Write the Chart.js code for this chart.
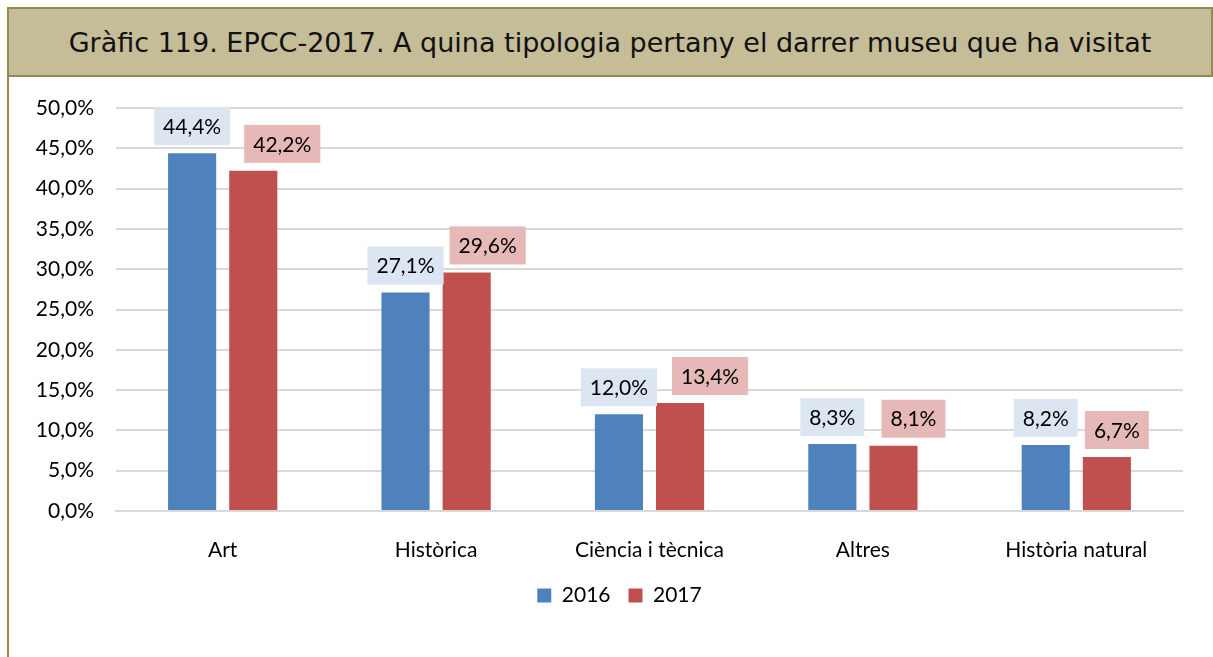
<!DOCTYPE html>
<html>
<head>
<meta charset="utf-8">
<script src="https://cdn.jsdelivr.net/npm/chart.js@4"></script>
<style>
  body { margin: 0; background: #fff; }
  #title {
    position: absolute; left: 7px; top: 7px;
    width: 1202px; height: 66px;
    background: #C4BD97;
    border: 2px solid #938953;
    font-family: "DejaVu Sans", Verdana, sans-serif;
    font-size: 27px; color: #111;
    display: flex; align-items: center; justify-content: center;
  }
  #frame { position: absolute; left: 7px; top: 77px; width: 2px; height: 580px; background: #938953; }
  #wrap { position: absolute; left: 10px; top: 79px; width: 1203px; height: 578px; }
</style>
</head>
<body>
<div id="title">Gràfic 119. EPCC-2017. A quina tipologia pertany el darrer museu que ha visitat</div>
<div id="frame"></div>
<div id="wrap"><canvas id="chart"></canvas></div>
<script>
var categories = ['Art', 'Històrica', 'Ciència i tècnica', 'Altres', 'Història natural'];
var seriesNames = ['2016', '2017'];
var values2016 = [44.4, 27.1, 12.0, 8.3, 8.2];
var values2017 = [42.2, 29.6, 13.4, 8.1, 6.7];
var yTicks = [0, 5, 10, 15, 20, 25, 30, 35, 40, 45, 50];

function pct(v)
{
	return v.toFixed(1).replace('.', ',') + '%';
}

// value boxes above each bar
var barLabels = {
	id: 'barLabels',
	afterUpdate: function(chart, args, opts) {
		// legend sits a little right of the canvas centre
		chart.legend.left += opts.legendShift * 2;
	},
	afterDatasetsDraw: function(chart, args, opts) {
		var ctx = chart.ctx;
		ctx.save();
		ctx.font = opts.font;
		ctx.textAlign = 'center';
		ctx.textBaseline = 'middle';
		chart.data.datasets.forEach(function(ds, i) {
			var meta = chart.getDatasetMeta(i);
			meta.data.forEach(function(bar, j) {
				var text = pct(ds.data[j]);
				var w = ctx.measureText(text).width + opts.padX * 2;
				var cx = bar.x + opts.shift[i][j];
				var bottom = bar.y - opts.gap;
				ctx.fillStyle = opts.bg[i];
				ctx.fillRect(cx - w / 2, bottom - opts.boxH, w, opts.boxH);
				ctx.fillStyle = '#000';
				ctx.fillText(text, cx, bottom - opts.boxH / 2 + 1);
			});
		});
		ctx.restore();
	}
};

var ctx = document.getElementById('chart').getContext('2d');
var myChart = new Chart(ctx, {
	type: 'bar',
	data: {
		labels: categories,
		datasets: [{
			label: seriesNames[0],
			data: values2016,
			backgroundColor: '#4F81BD'
		}, {
			label: seriesNames[1],
			data: values2017,
			backgroundColor: '#C0504D'
		}]
	},
	options: {
		responsive: true,
		maintainAspectRatio: false,
		animation: false,
		categoryPercentage: 0.573,
		barPercentage: 0.787,
		layout: { padding: { top: 29, right: 30, bottom: 41, left: 0 } },
		scales: {
			x: {
				grid: { display: false },
				border: { color: '#D9D9D9', width: 2 },
				ticks: { color: '#000', padding: 19, font: { family: 'Lato', size: 21 } },
				afterFit: function(scale) { scale.height = 56; }
			},
			y: {
				min: 0,
				max: 50,
				afterBuildTicks: function(scale) {
					scale.ticks = yTicks.map(function(v) { return { value: v }; });
				},
				grid: { color: '#D9D9D9', lineWidth: 2, drawTicks: true, tickLength: 19, tickColor: 'rgba(0,0,0,0)' },
				border: { display: false },
				ticks: {
					color: '#000', padding: 3,
					font: { family: 'Lato', size: 21 },
					callback: function(v) { return pct(v); }
				},
				afterFit: function(scale) { scale.width = 106; }
			}
		},
		plugins: {
			legend: {
				position: 'bottom',
				labels: {
					color: '#000', boxWidth: 14, boxHeight: 14, padding: 18,
					font: { family: 'Lato', size: 21 }
				}
			},
			tooltip: { enabled: false },
			barLabels: {
				font: '21px Lato',
				padX: 9,
				boxH: 38,
				gap: 8,
				legendShift: 23,
				bg: ['#DCE6F2', '#E6B9B8'],
				shift: [[0, 0, 0, 0, 0], [29, 21, 30, 20, 10]]
			}
		}
	},
	plugins: [barLabels]
});
</script>
</body>
</html>
